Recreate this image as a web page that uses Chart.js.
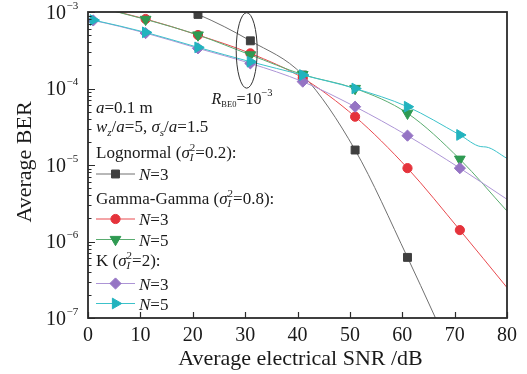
<!DOCTYPE html>
<html>
<head>
<meta charset="utf-8">
<script src="https://cdn.jsdelivr.net/npm/chart.js@4/dist/chart.umd.min.js"></script>
<style>
  body { margin: 0; background: #fff; }
  #wrap { width: 527px; height: 374px; position: relative; }
</style>
</head>
<body>
<div id="wrap"><canvas id="berChart"></canvas></div>
<script>
// Average BER vs average electrical SNR

// x ticks and y decades
var xTicks = [0, 10, 20, 30, 40, 50, 60, 70, 80];
var yDecades = [-3, -4, -5, -6, -7];
// SNR values where markers are drawn
var markerSnr = [1, 11, 21, 31, 41, 51, 61, 71];

// Lognormal (sigma_I^2 = 0.2), N=3
var lognormalN3Snr = [11, 21, 31, 41, 51, 61, 71];
var lognormalN3Ber = [1.6e-3, 9.3e-4, 4.2e-4, 1.5e-4, 1.57e-5, 6.2e-7, 2.0e-8];

// Gamma-Gamma (sigma_I^2 = 0.8), N=3 and N=5
var ggN3Snr = [1, 11, 21, 31, 41, 51, 61, 71, 80];
var ggN3Ber = [1.2e-3, 8.1e-4, 5.0e-4, 2.88e-4, 1.37e-4, 4.28e-5, 9.1e-6, 1.41e-6, 2.5e-7];
var ggN5Snr = [1, 11, 21, 31, 41, 51, 61, 71, 80];
var ggN5Ber = [1.2e-3, 8.0e-4, 5.0e-4, 2.75e-4, 1.52e-4, 1.0e-4, 4.74e-5, 1.19e-5, 2.5e-6];

// K (sigma_I^2 = 2), N=3 and N=5
var kN3Snr = [0, 1, 11, 21, 31, 41, 51, 61, 71, 80];
var kN3Ber = [7.95e-4, 7.75e-4, 5.3e-4, 3.35e-4, 2.13e-4, 1.23e-4, 5.78e-5, 2.42e-5, 9.1e-6, 3.56e-6];
var kN5Snr = [0, 1, 11, 21, 31, 41, 51, 61, 71, 75, 76, 80];
var kN5Ber = [8.1e-4, 7.85e-4, 5.42e-4, 3.45e-4, 2.24e-4, 1.5e-4, 1.0e-4, 5.78e-5, 2.47e-5, 1.74e-5, 1.72e-5, 1.22e-5];

var serif = '"Liberation Serif", "DejaVu Serif", serif';

function toPoints(xs, ys) {
    return xs.map(function (x, i) { return { x: x, y: ys[i] }; });
}

function markerRadius(r) {
    return function (ctx) {
        return ctx.raw && markerSnr.indexOf(ctx.raw.x) >= 0 ? r : 0;
    };
}

var styles = [
    { line: '#707070', mark: '#3f3f3f', style: 'rect', rot: 0, r: 5.6 },
    { line: '#e94a4f', mark: '#e5333b', style: 'circle', rot: 0, r: 4.6 },
    { line: '#5aac70', mark: '#2f9a52', style: 'triangle', rot: 180, r: 6.2 },
    { line: '#ad95d6', mark: '#9574c4', style: 'rectRot', rot: 0, r: 5.6 },
    { line: '#3cc2ca', mark: '#22b3be', style: 'triangle', rot: 90, r: 6.2 }
];

function makeSet(label, pts, s, order) {
    return {
        label: label,
        data: pts,
        borderColor: s.line,
        backgroundColor: s.mark,
        borderWidth: 1,
        pointStyle: s.style,
        pointRotation: s.rot,
        pointRadius: markerRadius(s.r),
        pointBackgroundColor: s.mark,
        pointBorderColor: s.mark,
        pointBorderWidth: 1,
        cubicInterpolationMode: 'monotone',
        order: order
    };
}

// draws runs of text: {t, size, italic, dy, stack}
function drawRuns(ctx, x, y, runs, color) {
    ctx.fillStyle = color || '#1a1a1a';
    ctx.textBaseline = 'alphabetic';
    ctx.textAlign = 'left';
    var stackW = 0;
    runs.forEach(function (r) {
        ctx.font = (r.italic ? 'italic ' : '') + r.size + 'px ' + serif;
        ctx.fillText(r.t, x, y + (r.dy || 0));
        var w = ctx.measureText(r.t).width;
        if (r.stack) {
            stackW = Math.max(stackW, w);
        } else {
            x += Math.max(w, stackW);
            stackW = 0;
        }
    });
    return x;
}

function sigmaI(v, size) {
    return [
        { t: '(', size: size },
        { t: 'σ', size: size, italic: true },
        { t: '2', size: 11, dy: -7, stack: true },
        { t: 'I', size: 11, italic: true, dy: 3 },
        { t: '=' + v + '):', size: size }
    ];
}

var decorations = {
    id: 'decorations',
    afterDraw: function (chart) {
        var ctx = chart.ctx;
        var a = chart.chartArea;
        var xs = chart.scales.x;
        var ys = chart.scales.y;
        ctx.save();

        // ticks (inward)
        ctx.strokeStyle = '#2b2b2b';
        ctx.lineWidth = 1.2;
        ctx.beginPath();
        xTicks.forEach(function (v) {
            var px = Math.round(xs.getPixelForValue(v)) + 0.5;
            ctx.moveTo(px, a.bottom);
            ctx.lineTo(px, a.bottom - 6);
        });
        yDecades.forEach(function (e) {
            for (var m = 1; m <= 9; m++) {
                var val = m * Math.pow(10, e);
                if (val > 1.0001e-3 || val < 0.9999e-7) continue;
                var py = Math.round(ys.getPixelForValue(val)) + 0.5;
                ctx.moveTo(a.left, py);
                ctx.lineTo(a.left + (m === 1 ? 7 : 3.5), py);
            }
        });
        ctx.stroke();

        // frame
        ctx.lineWidth = 1.8;
        ctx.strokeStyle = '#2b2b2b';
        ctx.strokeRect(a.left, a.top, a.right - a.left, a.bottom - a.top);

        // x tick labels
        ctx.fillStyle = '#1a1a1a';
        ctx.font = '20px ' + serif;
        ctx.textAlign = 'center';
        ctx.textBaseline = 'alphabetic';
        xTicks.forEach(function (v) {
            ctx.fillText(String(v), xs.getPixelForValue(v), a.bottom + 23);
        });

        // y tick labels 10^e
        yDecades.forEach(function (e) {
            var py = ys.getPixelForValue(Math.pow(10, e));
            ctx.font = '20px ' + serif;
            ctx.textAlign = 'right';
            ctx.fillText('10', 66, py + 6.5);
            ctx.font = '11px ' + serif;
            ctx.textAlign = 'left';
            ctx.fillText('\u2212' + (-e), 66.5, py - 3.5);
        });

        // axis titles
        ctx.font = '22px ' + serif;
        ctx.textAlign = 'center';
        ctx.fillText('Average electrical SNR /dB', (a.left + a.right) / 2 + 3, 365);
        ctx.save();
        ctx.translate(31, 162);
        ctx.rotate(-Math.PI / 2);
        ctx.fillText('Average BER', 0, 0);
        ctx.restore();

        // ellipse around the 31 dB markers
        var ex = xs.getPixelForValue(30.3);
        var eTop = ys.getPixelForValue(9.8e-4);
        var eBot = ys.getPixelForValue(1.01e-4);
        ctx.beginPath();
        ctx.lineWidth = 1;
        ctx.strokeStyle = '#333';
        ctx.ellipse(ex, (eTop + eBot) / 2, 10.5, (eBot - eTop) / 2, 0, 0, Math.PI * 2);
        ctx.stroke();

        drawRuns(ctx, 211.5, 103.5, [
            { t: 'R', size: 16, italic: true },
            { t: 'BE0', size: 8.5, dy: 3 },
            { t: '=10', size: 16 },
            { t: '\u22123', size: 10.5, dy: -8 }
        ]);

        // legend text block
        var lx = 96;
        drawRuns(ctx, lx, 113, [
            { t: 'a', size: 17, italic: true },
            { t: '=0.1 m', size: 17 }
        ]);
        drawRuns(ctx, lx, 132, [
            { t: 'w', size: 17, italic: true },
            { t: 'z', size: 11, italic: true, dy: 4 },
            { t: '/', size: 17 },
            { t: 'a', size: 17, italic: true },
            { t: '=5, ', size: 17 },
            { t: 'σ', size: 17, italic: true },
            { t: 's', size: 11, italic: true, dy: 4 },
            { t: '/', size: 17 },
            { t: 'a', size: 17, italic: true },
            { t: '=1.5', size: 17 }
        ]);
        drawRuns(ctx, lx, 158, [{ t: 'Lognormal ', size: 17 }].concat(sigmaI('0.2', 17)));
        drawRuns(ctx, lx, 204, [{ t: 'Gamma-Gamma ', size: 17 }].concat(sigmaI('0.8', 17)));
        drawRuns(ctx, lx, 265.5, [{ t: 'K ', size: 17 }].concat(sigmaI('2', 17)));

        var rows = [
            { s: styles[0], y: 174, n: '3' },
            { s: styles[1], y: 219, n: '3' },
            { s: styles[2], y: 239.5, n: '5' },
            { s: styles[3], y: 283.5, n: '3' },
            { s: styles[4], y: 303.5, n: '5' }
        ];
        rows.forEach(function (row) {
            ctx.beginPath();
            ctx.lineWidth = 1;
            ctx.strokeStyle = row.s.line;
            ctx.moveTo(96, row.y);
            ctx.lineTo(135, row.y);
            ctx.stroke();
            ctx.fillStyle = row.s.mark;
            ctx.strokeStyle = row.s.mark;
            Chart.helpers.drawPoint(ctx, {
                pointStyle: row.s.style,
                rotation: row.s.rot,
                radius: row.s.r,
                borderWidth: 1
            }, 115.5, row.y);
            drawRuns(ctx, 139, row.y + 6, [
                { t: 'N', size: 17, italic: true },
                { t: '=' + row.n, size: 17 }
            ]);
        });

        ctx.restore();
    }
};

var ctxBer = document.getElementById('berChart').getContext('2d');
var berChart = new Chart(ctxBer, {
    type: 'line',
    data: {
        datasets: [
            makeSet('Lognormal N=3', toPoints(lognormalN3Snr, lognormalN3Ber), styles[0], 5),
            makeSet('Gamma-Gamma N=3', toPoints(ggN3Snr, ggN3Ber), styles[1], 4),
            makeSet('Gamma-Gamma N=5', toPoints(ggN5Snr, ggN5Ber), styles[2], 3),
            makeSet('K N=3', toPoints(kN3Snr, kN3Ber), styles[3], 2),
            makeSet('K N=5', toPoints(kN5Snr, kN5Ber), styles[4], 1)
        ]
    },
    options: {
        responsive: true,
        maintainAspectRatio: false,
        animation: false,
        layout: { padding: { top: 12, right: 20, left: 0, bottom: 0 } },
        plugins: {
            legend: { display: false },
            tooltip: { enabled: false }
        },
        scales: {
            x: {
                type: 'linear',
                min: 0,
                max: 80,
                grid: { display: false },
                border: { display: false },
                ticks: { display: false },
                afterFit: function (scale) { scale.height = 56; }
            },
            y: {
                type: 'logarithmic',
                min: 1e-7,
                max: 1e-3,
                grid: { display: false },
                border: { display: false },
                ticks: { display: false },
                afterFit: function (scale) { scale.width = 88; }
            }
        }
    },
    plugins: [decorations]
});
</script>
</body>
</html>
